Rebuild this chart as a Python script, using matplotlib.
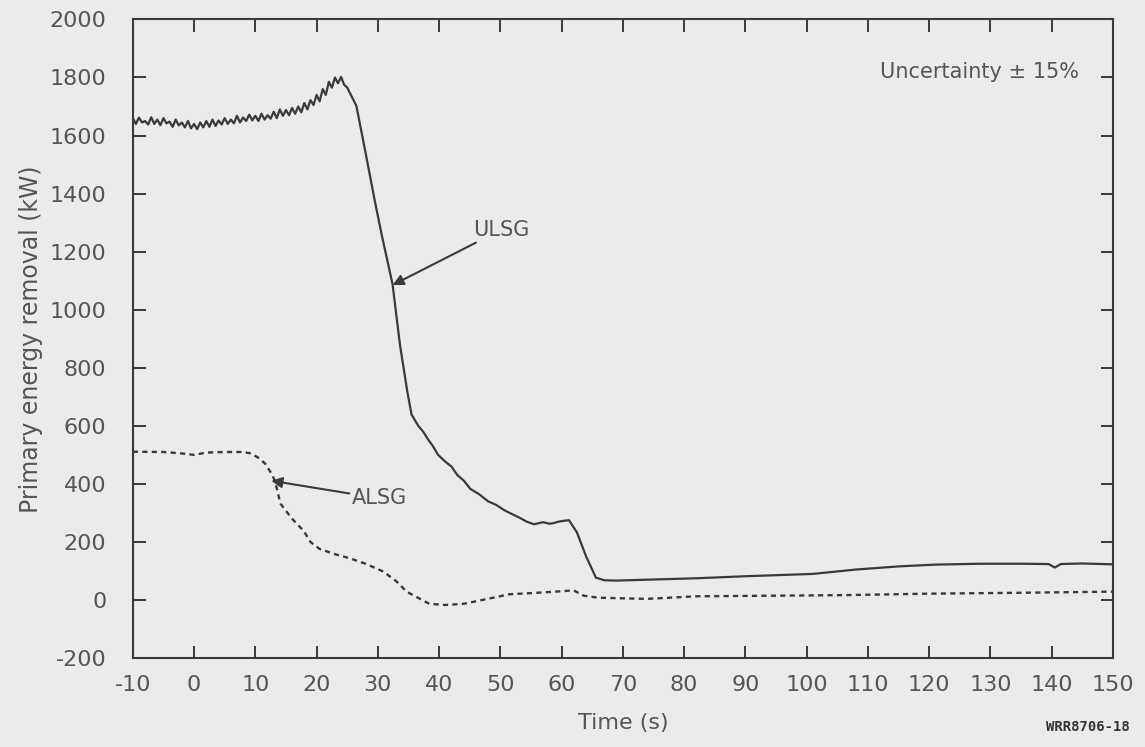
import matplotlib
matplotlib.use("Agg")
from matplotlib import pyplot as plt


# ULSG, fine steps through the noisy steady-state part (t = -10 .. 25 s)
ulsg_t_early = [-10 + 0.5 * i for i in range(71)]
ulsg_kw_early = [
    1660, 1640, 1662, 1645, 1650, 1638, 1663, 1640, 1655, 1636,
    1660, 1642, 1648, 1630, 1655, 1635, 1645, 1628, 1650, 1625,
    1640, 1622, 1645, 1628, 1650, 1630, 1655, 1633, 1652, 1638,
    1660, 1640, 1655, 1642, 1668, 1645, 1662, 1650, 1672, 1652,
    1668, 1650, 1675, 1655, 1670, 1658, 1682, 1660, 1690, 1668,
    1688, 1670, 1695, 1675, 1700, 1680, 1712, 1690, 1722, 1705,
    1740, 1718, 1760, 1740, 1785, 1765, 1800, 1780, 1802, 1775,
    1765,
]

# ULSG after the trip
ulsg_t_late = [26.5, 28, 29.5, 30.6, 32.4, 33.6, 34.8, 35.5, 36.6, 37.4,
               38.2, 39.0, 39.8, 41, 42, 43, 44, 45.1, 46.5, 48, 49.3,
               50.6, 52, 53, 54.3, 55.5, 56.5, 57, 58, 58.5, 59.5, 60,
               61.2, 62.5, 64, 65.6, 67, 68.9, 73.8, 82, 90, 101, 108,
               115.1, 121, 128.1, 135, 139.5, 140.5, 141.5, 145, 150]
ulsg_kw_late = [1702, 1540, 1375, 1261, 1088, 881, 719, 639, 600, 580,
                553, 530, 501, 477, 460, 430, 412, 383, 365, 340, 328,
                310, 295, 285, 270, 261, 266, 268, 263, 264, 270, 272,
                275, 233, 150, 77, 68, 67, 70, 75, 82, 90, 105,
                116, 122, 125, 125, 124, 112, 124, 126, 123]

ulsg_t = ulsg_t_early + ulsg_t_late
ulsg_kw = ulsg_kw_early + ulsg_kw_late

# ALSG
alsg_t = [-10, -5, -2, 0, 2, 5, 8, 9.3, 10.5, 11.6, 12.5, 13.2, 14.1, 16,
          17.9, 19, 20.5, 23, 25.4, 28, 30.9, 33, 34.7, 36.8, 38.4, 41,
          44, 47, 51.5, 56, 61.1, 62, 63.6, 66, 73.9, 82, 95, 106.5, 120,
          135, 150]
alsg_kw = [511, 510, 505, 500, 508, 510, 510, 505, 490, 470, 440, 411, 332,
           280, 238, 200, 176, 158, 144, 125, 98, 65, 29, 5, -13, -17,
           -13, 0, 20, 25, 32, 33, 15, 8, 4, 13, 15, 17, 22, 25, 29]

x_ticks = list(range(-10, 151, 10))
y_ticks = list(range(-200, 2001, 200))

BG = "#ebebe9"
INK = "#3a3a3a"
TXT = "#555555"

plt.rcParams["font.family"] = ["DejaVu Sans"]
plt.rcParams["axes.unicode_minus"] = False

fig = plt.figure(figsize=(11.45, 7.47), dpi=100, facecolor=BG)
ax = fig.add_axes([0.116, 0.119, 0.856, 0.855])
ax.set_facecolor(BG)

ax.plot(ulsg_t, ulsg_kw, color=INK, lw=1.6)
ax.plot(alsg_t, alsg_kw, color=INK, lw=1.7, linestyle=(0, (2.2, 1.8)))

ax.set_xlim(-10, 150)
ax.set_ylim(-200, 2000)
ax.set_xticks(x_ticks)
ax.set_yticks(y_ticks)

for sp in ax.spines.values():
    sp.set_color(INK)
    sp.set_linewidth(1.5)

ax.tick_params(axis="both", direction="in", length=9, width=1.4, color=INK,
               top=True, right=True, labelsize=16, labelcolor=TXT)
ax.tick_params(axis="x", pad=12)
ax.tick_params(axis="y", pad=19)

ax.set_xlabel("Time (s)", fontsize=16, color=TXT, labelpad=13)
ax.set_ylabel("Primary energy removal (kW)", fontsize=17, color=TXT,
              labelpad=5)

ax.text(112, 1820, "Uncertainty \u00b1 15%", fontsize=15, color=TXT,
        va="center", ha="left")

arrow = dict(arrowstyle="-|>", color=INK, lw=1.5, mutation_scale=16,
             shrinkA=0, shrinkB=0)
ax.annotate("ULSG", xy=(32.4, 1085), xytext=(45.5, 1275), fontsize=15,
            color=TXT, va="center", ha="left", arrowprops=arrow)
ax.annotate("ALSG", xy=(12.6, 411), xytext=(25.8, 350), fontsize=15,
            color=TXT, va="center", ha="left", arrowprops=arrow)

fig.text(0.987, 0.018, "WRR8706-18", fontsize=10, fontweight="bold",
         color="#333333", ha="right", va="bottom",
         family=["DejaVu Sans Mono"])

fig.savefig("out.png", dpi=100, facecolor=BG)
